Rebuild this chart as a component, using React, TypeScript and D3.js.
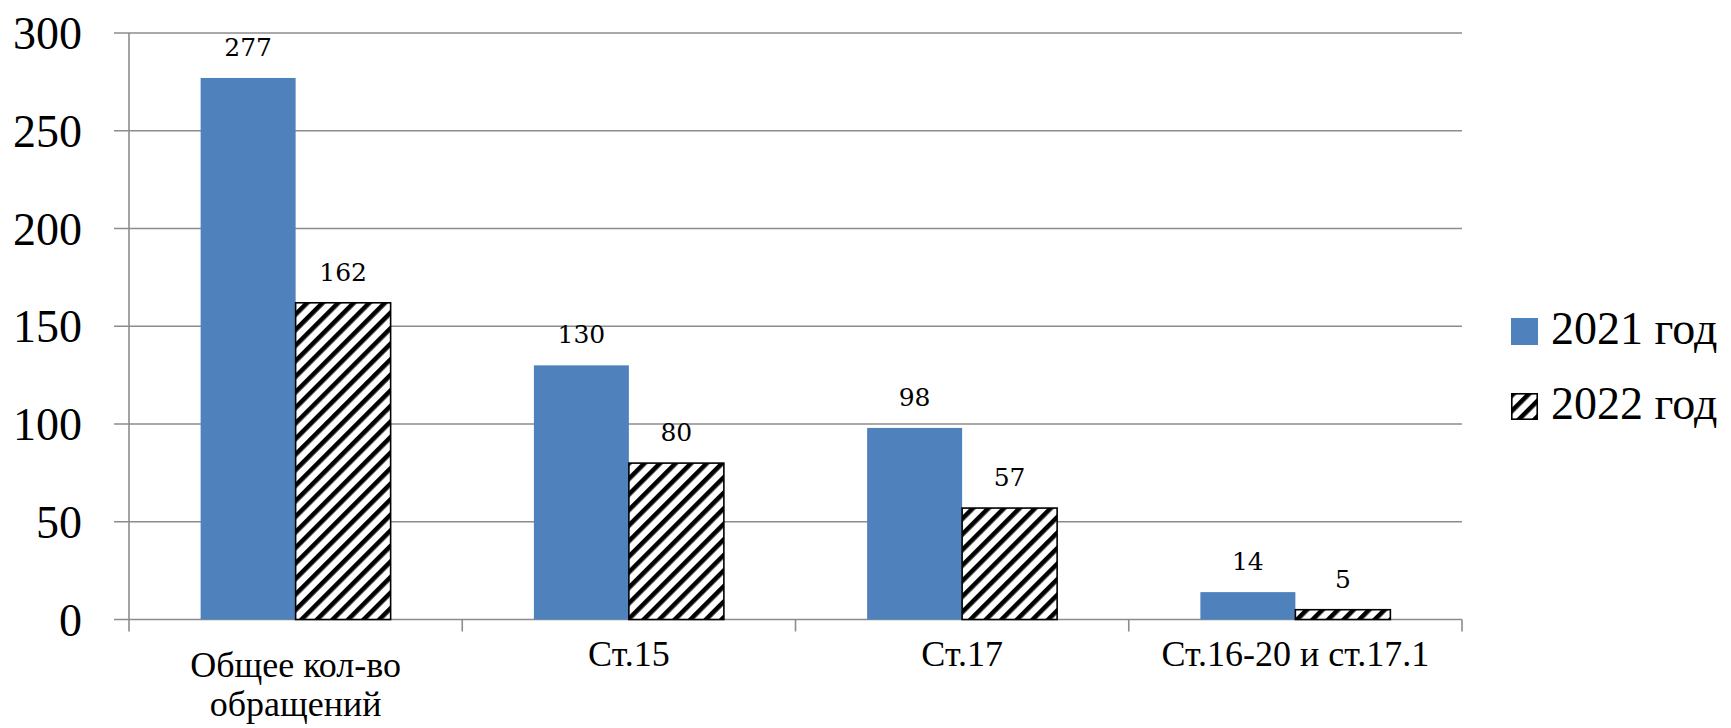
import React from "react";
import * as d3 from "d3";

const categories = ["Общее кол-во\nобращений", "Ст.15", "Ст.17", "Ст.16-20 и ст.17.1"];
const series = ["2021 год", "2022 год"];
const values2021 = [277, 130, 98, 14];
const values2022 = [162, 80, 57, 5];
const yTicks = [0, 50, 100, 150, 200, 250, 300];

const W = 1731;
const H = 728;
const left = 129;
const right = 1462;
const top = 33;
const bottom = 619.5;
const BLUE = "#4F81BD";
const GRID = "#8c8c8c";
const FONT = "DejaVu Serif";
const FONT2 = '"Liberation Serif"';

export default function App() {
  const x0 = d3.scaleBand<string>().domain(categories).range([left, right]).paddingInner(0).paddingOuter(0);
  const x1 = d3.scaleBand<string>().domain(series).range([0, x0.bandwidth()]).paddingInner(0).paddingOuter(0.754);
  const y = d3.scaleLinear().domain([0, 300]).range([bottom, top]);
  const data = [values2021, values2022];

  return (
    <div style={{ position: "absolute", left: 0, top: 0 }}>
      <svg width={W} height={H} style={{ display: "block", background: "#fff" }}>
        <defs>
          <pattern id="hatch" patternUnits="userSpaceOnUse" width={11} height={11} patternTransform="rotate(45)">
            <rect width={11} height={11} fill="#fff" />
            <rect x={0} y={0} width={4.6} height={11} fill="#000" />
          </pattern>
        </defs>
        {yTicks.map((t) => (
          <g key={t}>
            <line x1={left - 15} x2={right} y1={y(t)} y2={y(t)} stroke={GRID} strokeWidth={1.6} />
            <text x={82} y={y(t)} dy="0.35em" textAnchor="end" fontFamily={FONT2} fontSize={46} fill="#000">
              {t}
            </text>
          </g>
        ))}
        <line x1={left} x2={left} y1={y(300)} y2={bottom + 12} stroke={GRID} strokeWidth={1.6} />
        {categories.map((c, i) => (
          <line key={i} x1={(x0(c) as number) + x0.bandwidth()} x2={(x0(c) as number) + x0.bandwidth()} y1={bottom} y2={bottom + 12} stroke={GRID} strokeWidth={1.6} />
        ))}
        {categories.map((c, ci) =>
          series.map((s, si) => {
            const v = data[si][ci];
            const bx = (x0(c) as number) + (x1(s) as number);
            const bw = x1.bandwidth();
            return (
              <g key={c + s}>
                <rect
                  x={bx}
                  y={y(v)}
                  width={bw}
                  height={y(0) - y(v)}
                  fill={si === 0 ? BLUE : "url(#hatch)"}
                  stroke={si === 0 ? "none" : "#000"}
                  strokeWidth={si === 0 ? 0 : 1.6}
                />
                <text x={bx + bw / 2} y={y(v) - 22} textAnchor="middle" fontFamily={FONT} fontSize={25} fill="#000">
                  {v}
                </text>
              </g>
            );
          })
        )}
        {categories.map((c) => {
          const lines = c.split("\n");
          const cx = (x0(c) as number) + x0.bandwidth() / 2;
          return (
            <text key={c} x={cx} y={lines.length > 1 ? 677 : 666} textAnchor="middle" fontFamily={FONT2} fontSize={36} fill="#000">
              {lines.map((l, i) => (
                <tspan key={i} x={cx} dy={i === 0 ? 0 : 39}>
                  {l}
                </tspan>
              ))}
            </text>
          );
        })}
        {series.map((s, i) => (
          <g key={s} transform={`translate(1511, ${318 + i * 75})`}>
            <rect
              x={i === 0 ? 0 : 0.8}
              y={i === 0 ? 0 : 0.8}
              width={i === 0 ? 27 : 25.4}
              height={i === 0 ? 27 : 25.4}
              fill={i === 0 ? BLUE : "url(#hatch)"}
              stroke={i === 0 ? "none" : "#000"}
              strokeWidth={1.6}
            />
            <text x={40} y={26} fontFamily={FONT2} fontSize={46} fill="#000">
              {s}
            </text>
          </g>
        ))}
      </svg>
    </div>
  );
}
